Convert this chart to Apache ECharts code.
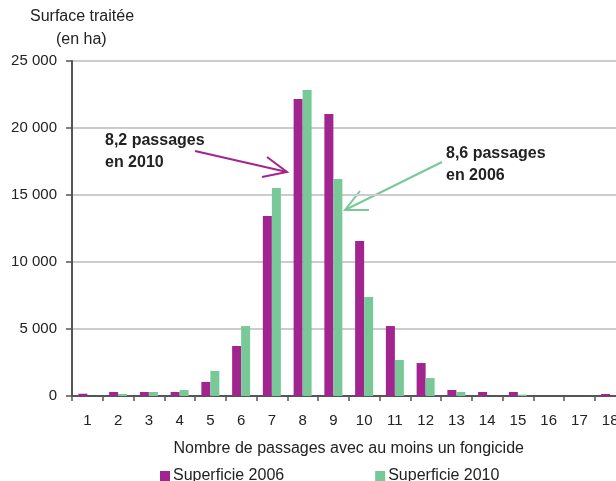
<!DOCTYPE html>
<html><head><meta charset="utf-8">
<script src="https://cdn.jsdelivr.net/npm/echarts@6/dist/echarts.min.js"></script>
<style>html,body{margin:0;padding:0;background:#fff;overflow:hidden}#c{width:626px;height:481px}</style>
</head><body><div id="c"></div>
<script>
const categories = ['1','2','3','4','5','6','7','8','9','10','11','12','13','14','15','16','17','18'];
const surf2006 = [170, 300, 300, 300, 1050, 3730, 13430, 22160, 21050, 11570, 5220, 2460, 450, 300, 300, 0, 0, 150];
const surf2010 = [0, 150, 300, 450, 1870, 5220, 15520, 22840, 16190, 7390, 2690, 1340, 300, 0, 100, 0, 0, 0];
const yTicks = { min: 0, max: 25000, interval: 5000 };
const seriesNames = ['Superficie 2006', 'Superficie 2010'];

const FONT = '"Liberation Sans", Arial, sans-serif';
const PURPLE = '#A2248E', GREEN = '#78C997';
const chart = echarts.init(document.getElementById('c'));
chart.setOption({
  animation: false,
  textStyle: { fontFamily: FONT },
  grid: { left: 72, right: 0.5, top: 61, bottom: 85, containLabel: false,
          show: true, borderColor: '#999999', borderWidth: 2, backgroundColor: 'transparent' },
  xAxis: {
    type: 'category', data: categories,
    axisLine: { lineStyle: { color: '#555', width: 2 } },
    axisTick: { show: true, length: 5, lineStyle: { color: '#555', width: 1.5 } },
    axisLabel: { color: '#222', fontSize: 15, margin: 17, fontFamily: FONT },
    name: 'Nombre de passages avec au moins un fongicide',
    nameLocation: 'middle', nameGap: 45,
    nameTextStyle: { color: '#222', fontSize: 16, fontFamily: FONT }
  },
  yAxis: {
    type: 'value', min: yTicks.min, max: yTicks.max, interval: yTicks.interval,
    axisLine: { show: true, lineStyle: { color: '#555', width: 2 } },
    axisTick: { show: true, length: 6, lineStyle: { color: '#555', width: 1.5 } },
    splitLine: { lineStyle: { color: '#cccccc', width: 2 } },
    axisLabel: { color: '#222', fontSize: 15, margin: 15, fontFamily: FONT,
      formatter: v => v >= 1000 ? (Math.floor(v/1000) + ' ' + String(v%1000).padStart(3,'0')) : String(v) }
  },
  legend: {
    left: 160, top: 468, padding: 0, itemGap: 91, itemWidth: 10, itemHeight: 10,
    icon: 'rect', textStyle: { color: '#222', fontSize: 16, fontFamily: FONT, padding: [0,0,0,-2] },
    data: seriesNames
  },
  series: [
    { name: seriesNames[0], type: 'bar', data: surf2006, barWidth: 9, barGap: '0%', itemStyle: { color: PURPLE } },
    { name: seriesNames[1], type: 'bar', data: surf2010, barWidth: 9, barGap: '0%', itemStyle: { color: GREEN } }
  ],
  graphic: [
    { type: 'text', left: 30, top: 9, style: { text: 'Surface traitée', font: '16px ' + FONT, fill: '#222' } },
    { type: 'text', left: 56, top: 32, style: { text: '(en ha)', font: '16px ' + FONT, fill: '#222' } },
    { type: 'text', left: 105, top: 130, style: { text: '8,2 passages\nen 2010', font: 'bold 16px ' + FONT, fill: '#222', lineHeight: 22 } },
    { type: 'text', left: 446, top: 143, style: { text: '8,6 passages\nen 2006', font: 'bold 16px ' + FONT, fill: '#222', lineHeight: 22 } },
    { type: 'line', shape: { x1: 195, y1: 151, x2: 287, y2: 172 }, style: { stroke: PURPLE, lineWidth: 2 } },
    { type: 'polyline', shape: { points: [[267,157],[287,172],[262,177]] }, style: { stroke: PURPLE, lineWidth: 2, fill: null } },
    { type: 'line', shape: { x1: 442, y1: 162, x2: 345, y2: 210 }, style: { stroke: GREEN, lineWidth: 2 } },
    { type: 'polyline', shape: { points: [[360,191],[345,210],[369,210]] }, style: { stroke: GREEN, lineWidth: 2, fill: null } }
  ]
});
</script></body></html>
